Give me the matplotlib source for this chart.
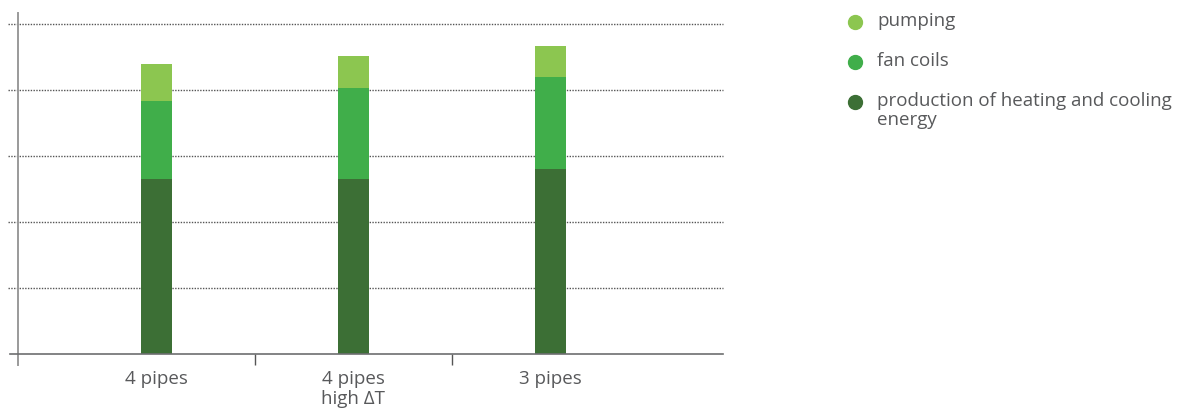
import matplotlib.pyplot as plt
from matplotlib.lines import Line2D

# chart data (one gridline = 1 unit)
categories = ['4 pipes', '4 pipes\nhigh ΔT', '3 pipes']
production = [2.65, 2.65, 2.80]
fan_coils = [1.18, 1.38, 1.39]
pumping = [0.56, 0.48, 0.48]
series_labels = ['pumping', 'fan coils', 'production of heating and cooling\nenergy']

col_pump = '#8cc650'
col_fan = '#40ae4a'
col_prod = '#3c6f35'
text_col = '#58595b'

plt.rcParams['font.family'] = ['Open Sans', 'DejaVu Sans']

fig = plt.figure(figsize=(11.86, 4.12), dpi=100)
# axes box in pixels: x 18..723, y 13..365 (from top)
ax = fig.add_axes([18 / 1186, (412 - 365) / 412, (723 - 18) / 1186, (365 - 13) / 412])

x = list(range(len(categories)))
w = 0.157
ax.bar(x, production, w, color=col_prod, zorder=3)
bottom2 = production
ax.bar(x, fan_coils, w, bottom=bottom2, color=col_fan, zorder=3)
bottom3 = [a + b for a, b in zip(production, fan_coils)]
ax.bar(x, pumping, w, bottom=bottom3, color=col_pump, zorder=3)

ax.set_xlim(-0.703, 2.876)
ax.set_ylim(-0.167, 5.167)

# dotted gridlines, slightly past the left spine
for yv in [1, 2, 3, 4, 5]:
    ax.axhline(yv, xmin=-0.014, xmax=1, color='#555555', lw=1.0,
               ls=(0, (1, 1)), clip_on=False, zorder=1)
# base line
ax.axhline(0, xmin=-0.011, xmax=1, color='#6d6e70', lw=1.2, clip_on=False, zorder=4)

for s in ['top', 'right', 'bottom']:
    ax.spines[s].set_visible(False)
ax.spines['left'].set_color('#9a9a9a')
ax.spines['left'].set_linewidth(1.4)

ax.set_yticks([])
ax.set_xticks([0.5, 1.5])
ax.set_xticklabels([])
ax.tick_params(axis='x', length=8, width=1, color='#555555', direction='out', pad=0)
ax.spines['bottom'].set_position(('data', 0))

for xi, lab in zip(x, categories):
    ax.text(xi, -0.25, lab, ha='center', va='top', fontsize=13.5, color=text_col,
            linespacing=1.1)

# legend on the right
colors = [col_pump, col_fan, col_prod]
ys = [22, 62, 102]
for c, yp, lab in zip(colors, ys, series_labels):
    fy = 1 - yp / 412
    fig.add_artist(Line2D([855 / 1186], [fy], marker='o', markersize=10,
                          color=c, transform=fig.transFigure, ls='none'))
    fig.text(877 / 1186, fy + 0.024, lab, ha='left', va='top', fontsize=13.5,
             color=text_col, linespacing=1.08)

fig.savefig('out.png', dpi=100)
